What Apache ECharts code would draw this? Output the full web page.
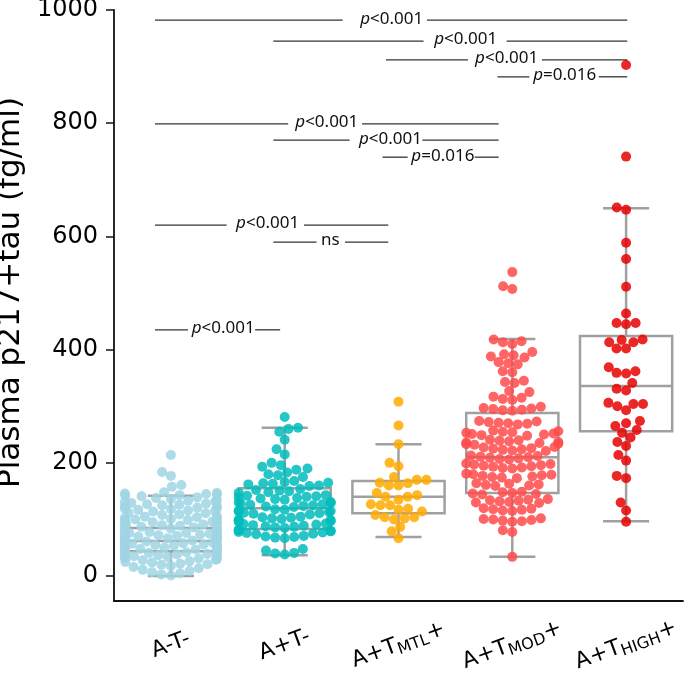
<!DOCTYPE html>
<html>
<head>
<meta charset="utf-8">
<script src="https://cdn.jsdelivr.net/npm/echarts@6/dist/echarts.min.js"></script>
<style>
  html, body { margin: 0; padding: 0; background: #fff; }
  #main { width: 685px; height: 682px; }
</style>
</head>
<body>
<div id="main"></div>
<script>
// groups on the x axis
const groups = ['A-T-', 'A+T-', 'A+T_MTL+', 'A+T_MOD+', 'A+T_HIGH+'];
const groupColors = ['#9fd5e4', '#00bcbc', '#ffaa00', '#ff4a4a', '#e80000'];

// plasma p217+tau per subject (fg/ml)
const valsATneg = [
  214, 184, 177, 161, 158,
  148, 147, 146, 145, 144, 143, 142, 141, 139, 138, 136,
  134, 133, 132, 131, 129, 128, 127, 126, 125, 124, 123, 121, 120,
  119, 118, 117, 116, 115, 114, 112, 111, 109, 108, 106,
  105, 104, 103, 102, 101, 100, 99, 98, 97, 96, 95, 94, 93, 92,
  91, 90, 89, 88, 87, 86, 85, 84, 84, 83, 82, 81, 80, 79, 78,
  77, 76, 76, 75, 74, 73, 72, 71, 70, 70, 69, 68, 67, 66, 65,
  64, 63, 62, 61, 60, 59, 58, 57, 57, 56, 55, 54, 53, 52,
  51, 50, 49, 48, 47, 46, 45, 44, 43, 43, 42, 41, 40, 39,
  38, 37, 36, 36, 35, 34, 33, 32, 31, 30, 29, 28,
  26, 25, 24, 22, 21, 20, 18, 16, 14,
  11, 9, 7, 5, 3, 1
];
const valsApTneg = [
  281, 262, 260, 255, 241, 224, 215,
  200, 196, 193, 190, 188,
  183, 180, 178, 175,
  168, 166, 165, 164, 163, 162, 160, 159,
  154, 152, 151, 150, 148, 147,
  143, 142, 141, 140, 139, 138, 137, 136, 135,
  131, 130, 129, 128, 127, 126, 125, 124, 123, 122,
  118, 117, 116, 115, 114, 113, 112, 111, 110, 109,
  105, 104, 103, 102, 101, 100, 99, 98, 97, 96,
  93, 92, 91, 90, 89, 88, 87, 86, 85,
  82, 81, 80, 79, 78, 77, 76, 75, 74,
  71, 70, 69, 68, 67,
  48, 45, 41, 40, 38
];
const valsMTL = [
  308, 266, 233, 200, 194, 175, 170, 170, 165, 160, 160, 164,
  147, 143, 140, 135, 140, 127, 125, 117, 114, 119, 125,
  108, 104, 100, 102, 104, 87, 79, 67
];
const valsMOD = [
  537, 512, 507,
  418, 413, 410, 415,
  396, 392, 390, 388, 386,
  378, 376, 374,
  362, 360,
  345, 343, 341,
  327, 325,
  317, 315, 313, 311,
  299, 297, 296, 295, 294, 293, 292,
  274, 273, 272, 271, 270, 269, 268,
  257, 256, 255, 254, 253, 252, 251, 250, 249, 248,
  241, 240, 239, 238, 237, 236, 235, 234, 233, 232,
  228, 227, 226, 225, 224, 223, 222, 221,
  213, 212, 211, 210, 209, 208, 207, 206,
  199, 198, 197, 196, 195, 194, 193, 192, 191, 190,
  181, 180, 179, 178, 177, 176, 175, 174, 173,
  164, 163, 162, 161, 160, 159,
  149, 148, 147, 146, 145, 144,
  136, 135, 134, 133, 132, 131, 130, 129,
  120, 119, 118, 117, 116, 115,
  102, 101, 100, 99, 98, 97, 96,
  81, 78,
  34
];
const valsHIGH = [
  903, 741, 651, 647, 589, 560, 511, 464, 447, 445, 447,
  418, 417, 413, 413, 402, 402, 369, 359, 358, 362,
  341, 331, 328, 306, 300, 293, 304, 304, 274, 270,
  265, 258, 253, 245, 237, 230, 214, 204, 177, 173,
  130, 116, 96
];
const groupValues = [valsATneg, valsApTneg, valsMTL, valsMOD, valsHIGH];

// box plot statistics per group
const boxLow = [0, 37, 69, 34, 97];
const boxQ1 = [44, 83, 111, 147, 256];
const boxMed = [62, 120, 140, 210, 336];
const boxQ3 = [85, 155, 168, 288, 424];
const boxHigh = [142, 262, 233, 419, 650];

const yTicks = [0, 200, 400, 600, 800, 1000];

// significance brackets (x in group units): line start, end of left piece,
// label centre, start of right piece, line end, height
const brFrom = [-0.14, 0.90, 1.89, 2.87, -0.14, 0.90, 1.86, -0.14, 0.90, -0.14];
const brLeftEnd = [1.51, 2.22, 2.61, 3.15, 1.03, 1.57, 2.08, 0.49, 1.28, 0.15];
const brMid = [1.94, 2.59, 2.95, 3.46, 1.37, 1.93, 2.39, 0.85, 1.40, 0.46];
const brRightStart = [2.25, 2.95, 3.26, 3.76, 1.68, 2.21, 2.67, 1.17, 1.53, 0.74];
const brTo = [4.01, 4.01, 4.01, 4.01, 2.88, 2.88, 2.88, 1.91, 1.91, 0.96];
const brY = [982, 945, 912, 882, 799, 770, 740, 620, 590, 435];
const brText = ['p<0.001', 'p<0.001', 'p<0.001', 'p=0.016', 'p<0.001', 'p<0.001', 'p=0.016', 'p<0.001', 'ns', 'p<0.001'];

const chart = echarts.init(document.getElementById('main'));

const labelRich = {
  n: { fontFamily: 'DejaVu Sans', fontSize: 22, lineHeight: 26, color: '#000' },
  s: { fontFamily: 'DejaVu Sans', fontSize: 16, lineHeight: 18, verticalAlign: 'bottom', color: '#000' }
};

chart.setOption({
  animation: false,
  grid: { left: 114, right: 2, top: 10, bottom: 81, containLabel: false, outerBoundsMode: 'none' },
  xAxis: [{
    type: 'category',
    data: groups,
    axisLine: { onZero: false, lineStyle: { color: '#111', width: 1.8 } },
    axisTick: { alignWithLabel: true, length: 8, lineStyle: { color: '#111', width: 1.5 } },
    axisLabel: {
      rotate: 20,
      align: 'center',
      verticalAlign: 'middle',
      margin: 44,
      hideOverlap: false,
      interval: 0,
      rich: labelRich,
      formatter: function (v) {
        const m = v.match(/^(A.T)_([A-Z]+)(\+)$/);
        return m ? '{n|' + m[1] + '}{s|' + m[2] + '}{n|+}' : '{n|' + v + '}';
      }
    }
  }, {
    type: 'value', min: -0.5, max: 4.5, show: false
  }],
  yAxis: {
    type: 'value',
    min: -44,
    max: 1000,
    name: 'Plasma p217+tau (fg/ml)',
    nameLocation: 'middle',
    nameGap: 78,
    nameTextStyle: { fontFamily: 'DejaVu Sans', fontSize: 31, color: '#000', padding: [0, 0, 0, 26] },
    axisLine: { show: true, onZero: false, lineStyle: { color: '#111', width: 1.8 } },
    axisTick: { show: true, length: 8, customValues: yTicks, lineStyle: { color: '#111', width: 1.5 } },
    axisLabel: {
      customValues: yTicks, margin: 16, fontFamily: 'DejaVu Sans', fontSize: 24, color: '#000',
      formatter: v => String(v)
    },
    splitLine: { show: false }
  }
});

// pixel scales for the swarm layout
const ppy = Math.abs(chart.convertToPixel({ yAxisIndex: 0 }, 0) - chart.convertToPixel({ yAxisIndex: 0 }, 100)) / 100;
const ppx = chart.convertToPixel({ xAxisIndex: 1 }, 1) - chart.convertToPixel({ xAxisIndex: 1 }, 0);

// beeswarm: place each point as close to the centre as it can go without overlap
function swarm(vals, d, half) {
  const pts = vals.map(v => ({ v: v, y: v * ppy, x: 0 })).sort((a, b) => a.y - b.y);
  const placed = [];
  pts.forEach(p => {
    const nb = placed.filter(q => Math.abs(q.y - p.y) < d);
    const cands = [0];
    nb.forEach(q => {
      const dx = Math.sqrt(d * d - (q.y - p.y) * (q.y - p.y));
      cands.push(q.x - dx, q.x + dx);
    });
    cands.sort((a, b) => Math.abs(a) - Math.abs(b));
    for (const c of cands) {
      if (nb.every(q => (q.x - c) * (q.x - c) + (q.y - p.y) * (q.y - p.y) >= d * d - 1e-6)) {
        p.x = c;
        break;
      }
    }
    placed.push(p);
  });
  pts.forEach(p => { p.x = Math.max(-half, Math.min(half, p.x)); });
  return pts;
}

const pointSeries = groupValues.map((vals, gi) => ({
  type: 'scatter',
  xAxisIndex: 1,
  symbolSize: 10,
  z: 3,
  itemStyle: { color: groupColors[gi], opacity: 0.85 },
  data: swarm(vals, 9.6, 46).map(p => [gi + p.x / ppx, p.v])
}));

const boxSeries = {
  type: 'custom',
  xAxisIndex: 1,
  z: 2,
  data: groups.map((g, i) => [i, boxLow[i], boxQ1[i], boxMed[i], boxQ3[i], boxHigh[i]]),
  renderItem: function (params, api) {
    const i = api.value(0);
    const hw = api.size([1, 0])[0] * 0.405;
    const cap = hw / 2;
    const lo = api.coord([i, api.value(1)]);
    const q1 = api.coord([i, api.value(2)]);
    const md = api.coord([i, api.value(3)]);
    const q3 = api.coord([i, api.value(4)]);
    const hi = api.coord([i, api.value(5)]);
    const cx = lo[0];
    const st = { stroke: '#a0a0a0', lineWidth: 2.5, fill: null };
    const ln = (x1, y1, x2, y2) => ({ type: 'line', shape: { x1: x1, y1: y1, x2: x2, y2: y2 }, style: st });
    return {
      type: 'group',
      children: [
        { type: 'rect', shape: { x: cx - hw, y: q3[1], width: 2 * hw, height: q1[1] - q3[1] }, style: st },
        ln(cx - hw, md[1], cx + hw, md[1]),
        ln(cx, q3[1], cx, hi[1]),
        ln(cx, q1[1], cx, lo[1]),
        ln(cx - cap, hi[1], cx + cap, hi[1]),
        ln(cx - cap, lo[1], cx + cap, lo[1])
      ]
    };
  }
};

const bracketSeries = {
  type: 'custom',
  xAxisIndex: 1,
  z: 4,
  data: brY.map((y, i) => [brFrom[i], brLeftEnd[i], brMid[i], brRightStart[i], brTo[i], y, i]),
  renderItem: function (params, api) {
    const y = api.value(5);
    const a = api.coord([api.value(0), y]);
    const b = api.coord([api.value(1), y]);
    const m = api.coord([api.value(2), y]);
    const c = api.coord([api.value(3), y]);
    const e = api.coord([api.value(4), y]);
    const t = brText[api.value(6)];
    const st = { stroke: '#333', lineWidth: 1.3 };
    return {
      type: 'group',
      children: [
        { type: 'line', shape: { x1: a[0], y1: a[1], x2: b[0], y2: b[1] }, style: st },
        { type: 'line', shape: { x1: c[0], y1: c[1], x2: e[0], y2: e[1] }, style: st },
        {
          type: 'text',
          style: {
            x: m[0], y: m[1] - 1.5,
            text: t.charAt(0) === 'p' ? '{i|p}' + t.slice(1) : t,
            rich: { i: { fontStyle: 'italic', fontFamily: 'Noto Sans', fontSize: 17, fill: '#111' } },
            fontFamily: 'Noto Sans', fontSize: 17, fill: '#111',
            align: 'center', verticalAlign: 'middle'
          }
        }
      ]
    };
  }
};

chart.setOption({ series: [boxSeries].concat(pointSeries, [bracketSeries]) });
</script>
</body>
</html>
